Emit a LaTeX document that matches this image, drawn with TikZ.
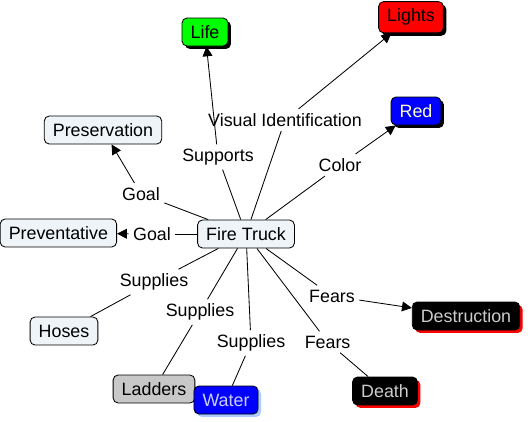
\documentclass[tikz,border=0pt]{standalone}
\usepackage{fontspec}
\setmainfont{Liberation Sans}
\usepackage{tikz}
\usetikzlibrary{arrows.meta,shadows}
\definecolor{conceptfill}{RGB}{238,244,247}
\definecolor{laddergray}{RGB}{200,200,200}
\definecolor{redtext}{RGB}{255,255,204}
\definecolor{watertext}{RGB}{204,204,255}
\definecolor{watershadow}{RGB}{170,204,255}
\definecolor{darktext}{RGB}{204,204,204}

\begin{document}
\begin{tikzpicture}[
    font=\fontsize{12.7}{15}\selectfont,
    concept/.style={rectangle, draw, rounded corners=3.5pt, line width=0.6pt, minimum height=0.7cm, inner xsep=6.1pt, inner ysep=2pt, text centered, fill=conceptfill},
    blackshadow/.style={general shadow={fill=black, shadow xshift=2.1pt, shadow yshift=-2.1pt}},
    redshadow/.style={general shadow={fill=red, shadow xshift=2.1pt, shadow yshift=-2.1pt}},
    lbl/.style={inner sep=3pt},
    link/.style={-, line width=0.6pt},
    arr/.style={-{Triangle[length=7pt,width=7pt]}, line width=0.6pt}
]
    \useasboundingbox (0,0) rectangle (13.2,-10.525);

    % Concepts
    \node[concept] (truck) at (6.15,-5.85) {Fire Truck};
    \node[concept, fill=green, blackshadow] (life) at (5.125,-0.8) {Life};
    \node[concept, fill=red, blackshadow, minimum height=0.78cm] (lights) at (10.275,-0.43) {Lights};
    \node[concept, fill=blue, text=redtext, blackshadow] (red) at (10.4,-2.775) {Red};
    \node[concept] (preserv) at (2.575,-3.25) {Preservation};
    \node[concept] (prevent) at (1.46,-5.825) {Preventative};
    \node[concept] (hoses) at (1.6,-8.275) {Hoses};
    \node[concept, fill=laddergray] (ladders) at (3.85,-9.725) {Ladders};
    \node[concept, fill=blue, text=watertext, general shadow={fill=watershadow, shadow xshift=2.1pt, shadow yshift=-2.1pt}] (water) at (5.65,-10.0) {Water};
    \node[concept, fill=black, text=darktext, redshadow] (destr) at (11.65,-7.9) {Destruction};
    \node[concept, fill=black, text=darktext, redshadow] (death) at (9.625,-9.775) {Death};

    % Linking phrases
    \node[lbl] (supports) at (5.45,-3.925) {Supports};
    \node[lbl] (visual) at (7.125,-3.0) {Visual Identification};
    \node[lbl] (color) at (8.5,-4.125) {Color};
    \node[lbl] (goalup) at (3.525,-4.85) {Goal};
    \node[lbl] (goalleft) at (3.8,-5.85) {Goal};
    \node[lbl] (supphoses) at (3.85,-7.05) {Supplies};
    \node[lbl] (suppladders) at (5.0,-7.8) {Supplies};
    \node[lbl] (suppwater) at (6.275,-8.575) {Supplies};
    \node[lbl] (fearsdestr) at (8.3,-7.4) {Fears};
    \node[lbl] (fearsdeath) at (8.19,-8.55) {Fears};

    % Links
    \draw[link] (truck) -- (supports);
    \draw[arr] (supports) -- (life);
    \draw[link] (truck) -- (visual);
    \draw[arr] (visual) -- (lights);
    \draw[link] (truck) -- (color);
    \draw[arr] (color) -- (red);
    \draw[link] (truck) -- (goalup);
    \draw[arr] (goalup) -- (preserv);
    \draw[link] (truck) -- (goalleft);
    \draw[arr] (goalleft) -- (prevent);
    \draw[link] (truck) -- (supphoses);
    \draw[link] (supphoses) -- (hoses);
    \draw[link] (truck) -- (suppladders);
    \draw[link] (suppladders) -- (ladders);
    \draw[link] (truck) -- (suppwater);
    \draw[link] (suppwater) -- (water);
    \draw[link] (truck) -- (fearsdestr);
    \draw[arr] (fearsdestr) -- (destr);
    \draw[link] (truck) -- (fearsdeath);
    \draw[link] (fearsdeath) -- (death);
\end{tikzpicture}
\end{document}
